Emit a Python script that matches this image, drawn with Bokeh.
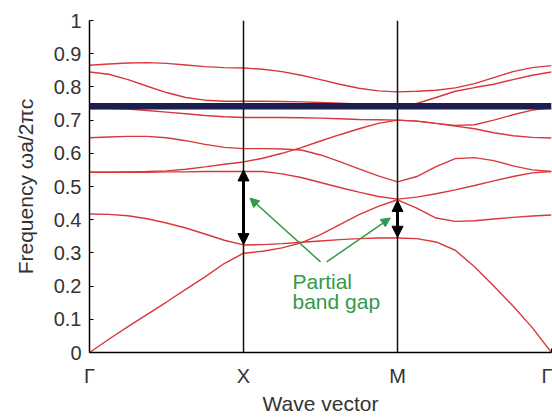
from bokeh.plotting import figure
from bokeh.models import (Range1d, FixedTicker, Span, Arrow, NormalHead,
                          ColumnDataSource)
from bokeh.core.properties import value
from bokeh.embed import file_html
from bokeh.resources import INLINE

# ---- data ----
k_path = [0, 0.125, 0.25, 0.375, 0.5, 0.625, 0.75, 0.875, 1,
          1.125, 1.25, 1.375, 1.5, 1.625, 1.75, 1.875, 2,
          2.125, 2.25, 2.375, 2.5, 2.625, 2.75, 2.875, 3]

band_a = [0.865, 0.869, 0.872, 0.873, 0.871, 0.866, 0.861, 0.858, 0.857,
          0.853, 0.846, 0.835, 0.822, 0.808, 0.796, 0.788, 0.785,
          0.787, 0.790, 0.797, 0.810, 0.828, 0.846, 0.858, 0.864]
band_b = [0.845, 0.838, 0.822, 0.802, 0.783, 0.768, 0.760, 0.757, 0.757,
          0.757, 0.756, 0.755, 0.753, 0.751, 0.749, 0.747, 0.745,
          0.750, 0.768, 0.787, 0.798, 0.808, 0.822, 0.835, 0.845]
band_c = [0.735, 0.735, 0.733, 0.729, 0.724, 0.719, 0.714, 0.710, 0.708,
          0.708, 0.708, 0.707, 0.706, 0.704, 0.702, 0.701, 0.700,
          0.697, 0.690, 0.682, 0.674, 0.662, 0.653, 0.648, 0.646]
band_d = [0.647, 0.649, 0.651, 0.651, 0.647, 0.638, 0.627, 0.618, 0.614,
          0.614, 0.613, 0.610, 0.595, 0.575, 0.553, 0.532, 0.514,
          0.530, 0.560, 0.584, 0.587, 0.578, 0.562, 0.550, 0.545]
band_e = [0.543, 0.543, 0.544, 0.545, 0.547, 0.552, 0.559, 0.567, 0.574,
          0.585, 0.600, 0.617, 0.637, 0.656, 0.674, 0.690, 0.700,
          0.697, 0.690, 0.684, 0.686, 0.700, 0.716, 0.730, 0.737]
band_f = [0.543, 0.543, 0.543, 0.543, 0.544, 0.544, 0.545, 0.545, 0.545,
          0.545, 0.538, 0.527, 0.512, 0.497, 0.483, 0.470, 0.462,
          0.468, 0.478, 0.490, 0.503, 0.517, 0.530, 0.541, 0.545]
band_g = [0.417, 0.416, 0.412, 0.403, 0.390, 0.375, 0.357, 0.338, 0.324,
          0.325, 0.328, 0.332, 0.336, 0.340, 0.343, 0.345, 0.345,
          0.343, 0.333, 0.308, 0.258, 0.200, 0.140, 0.075, 0.000]
band_h = [0.000, 0.040, 0.078, 0.115, 0.152, 0.190, 0.228, 0.268, 0.299,
          0.305, 0.315, 0.330, 0.355, 0.385, 0.415, 0.440, 0.460,
          0.435, 0.405, 0.395, 0.397, 0.402, 0.407, 0.411, 0.414]
bands = [band_a, band_b, band_c, band_d, band_e, band_f, band_g, band_h]

sym_ticks = [0, 1, 2, 3]
sym_labels = ["Γ", "X", "M", "Γ"]
sym_lines = [1, 2]

y_ticks = [0, 0.1, 0.2, 0.3, 0.4, 0.5, 0.6, 0.7, 0.8, 0.9, 1]
y_tick_labels = ["0", "0.1", "0.2", "0.3", "0.4", "0.5", "0.6", "0.7", "0.8", "0.9", "1"]

complete_gap_freq = 0.742

gap_k = [1, 2]
gap_top = [0.55, 0.458]
gap_bottom = [0.325, 0.347]

note_lines = ["Partial", "band gap"]
note_x = [1.318, 1.318]
note_y = [0.213, 0.153]
pointer_x_start = [1.50, 1.54]
pointer_y_start = [0.273, 0.273]
pointer_x_end = [1.042, 1.953]
pointer_y_end = [0.465, 0.405]

# ---- figure ----
FONT = "Liberation Sans"
TXT = "#333333"
GREEN = "#34994a"

p = figure(width=552, height=417, output_backend="svg", toolbar_location=None,
           x_range=Range1d(0, 3), y_range=Range1d(0, 1),
           min_border_left=89, min_border_right=1, min_border_top=20,
           min_border_bottom=64)
p.outline_line_color = None
p.grid.visible = False
p.background_fill_color = "white"
p.border_fill_color = "white"

for b in bands:
    p.line(k_path, b, line_color="#d8383a", line_width=1.4)

for xv in sym_lines:
    p.add_layout(Span(location=xv, dimension="height", line_color="#111111",
                      line_width=1.5))
p.add_layout(Span(location=complete_gap_freq, dimension="width",
                  line_color="#1b1f50", line_width=6.5))

gap_src = ColumnDataSource(dict(x=gap_k, y0=gap_top, y1=gap_bottom))
p.add_layout(Arrow(source=gap_src, x_start="x", y_start="y0", x_end="x", y_end="y1",
                   line_color="black", line_width=3,
                   start=NormalHead(size=11, fill_color="black", line_color="black", line_width=1),
                   end=NormalHead(size=11, fill_color="black", line_color="black", line_width=1)))

ptr_src = ColumnDataSource(dict(xs=pointer_x_start, ys=pointer_y_start,
                                xe=pointer_x_end, ye=pointer_y_end))
p.add_layout(Arrow(source=ptr_src, x_start="xs", y_start="ys", x_end="xe", y_end="ye",
                   line_color=GREEN, line_width=1.5,
                   end=NormalHead(size=9, fill_color=GREEN, line_color=GREEN, line_width=1)))

p.text(x=note_x, y=note_y, text=note_lines, text_color=GREEN,
       text_font=value(FONT), text_font_size="21px", text_baseline="alphabetic",
       text_align="left")

# axes
p.xaxis.ticker = FixedTicker(ticks=sym_ticks)
p.xaxis.major_label_overrides = {t: l for t, l in zip(sym_ticks, sym_labels)}
p.yaxis.ticker = FixedTicker(ticks=y_ticks)
p.yaxis.major_label_overrides = {t: l for t, l in zip(y_ticks, y_tick_labels)}
for ax in (p.xaxis[0], p.yaxis[0]):
    ax.axis_line_color = "black"
    ax.axis_line_width = 1.5
    ax.major_tick_in = 4
    ax.major_tick_out = 0
    ax.minor_tick_in = 0
    ax.minor_tick_out = 0
    ax.major_tick_line_color = "black"
    ax.major_label_text_font = FONT
    ax.major_label_text_font_size = "20px"
    ax.major_label_text_color = TXT
    ax.axis_label_text_font = FONT
    ax.axis_label_text_font_size = "21px"
    ax.axis_label_text_font_style = "normal"
    ax.axis_label_text_color = TXT

p.xaxis.axis_label = "Wave vector"
p.yaxis.axis_label = "Frequency ωa/2πc"
p.xaxis.major_label_standoff = 12
p.xaxis.axis_label_standoff = 2
p.yaxis.major_label_standoff = 8
p.yaxis.axis_label_standoff = 14

open("out.html", "w").write(file_html(p, INLINE))
